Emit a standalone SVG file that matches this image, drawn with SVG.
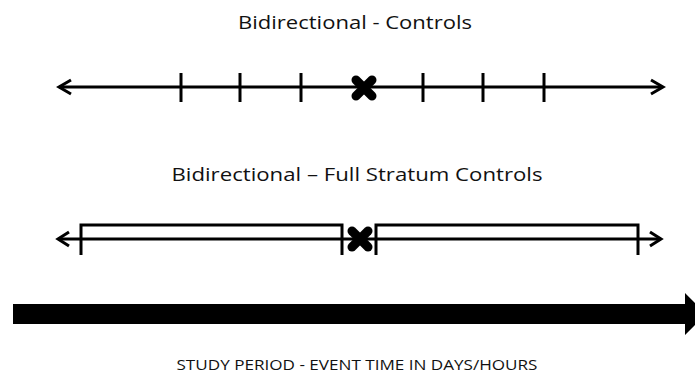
<svg xmlns="http://www.w3.org/2000/svg" width="695" height="374" viewBox="0 0 695 374">
<style>
.ln{stroke:#000;stroke-width:3;fill:none}
.hd{stroke:#000;stroke-width:3;fill:none;stroke-linejoin:miter}
.x{stroke:#000;stroke-width:9;stroke-linecap:round}
.t{font-family:"Open Sans","Liberation Sans",sans-serif;fill:#111}
</style>
<rect width="695" height="374" fill="#fff"/>
<g id="title-controls"><text class="t" x="355" y="29" font-size="19" text-anchor="middle" textLength="234" lengthAdjust="spacingAndGlyphs">Bidirectional - Controls</text></g>
<g id="timeline-controls">
<line class="ln" x1="59" y1="87" x2="662" y2="87"/>
<polyline class="hd" points="71,80 59,87 71,94"/>
<polyline class="hd" points="651,80 663,87 651,94"/>
<line class="ln" x1="181" y1="73" x2="181" y2="102"/>
<line class="ln" x1="240" y1="73" x2="240" y2="102"/>
<line class="ln" x1="301" y1="73" x2="301" y2="102"/>
<line class="ln" x1="423" y1="73" x2="423" y2="102"/>
<line class="ln" x1="483" y1="73" x2="483" y2="102"/>
<line class="ln" x1="544" y1="73" x2="544" y2="102"/>
<g id="event-1"><line class="x" x1="356" y1="80" x2="372" y2="96"/><line class="x" x1="372" y1="80" x2="356" y2="96"/></g>
</g>
<g id="title-full"><text class="t" x="357" y="181" font-size="19" text-anchor="middle" textLength="371" lengthAdjust="spacingAndGlyphs">Bidirectional – Full Stratum Controls</text></g>
<g id="timeline-full">
<line class="ln" x1="58" y1="239" x2="661" y2="239"/>
<polyline class="hd" points="69,232 58,239 69,246"/>
<polyline class="hd" points="650,232 661,239 650,246"/>
<path class="ln" d="M81,255 V225 H342 V255"/>
<path class="ln" d="M376,255 V225 H638 V255"/>
<g id="event-2"><line class="x" x1="352" y1="231" x2="368" y2="247"/><line class="x" x1="368" y1="231" x2="352" y2="247"/></g>
</g>
<g id="study-arrow"><polygon points="13,304 685,304 685,293 706,314 685,335 685,324 13,324" fill="#000"/></g>
<g id="study-label"><text class="t" x="357" y="370" font-size="15" text-anchor="middle" textLength="361" lengthAdjust="spacingAndGlyphs">STUDY PERIOD -  EVENT TIME IN DAYS/HOURS</text></g>
</svg>
